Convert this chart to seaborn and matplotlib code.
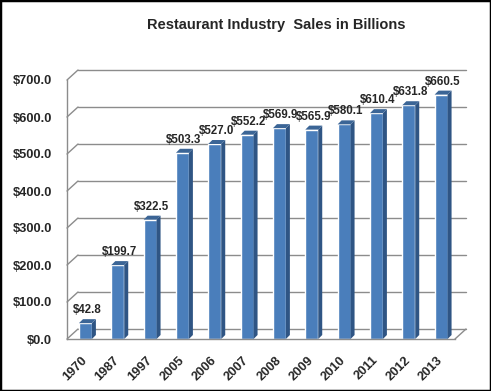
import numpy as np
import pandas as pd
import matplotlib
matplotlib.use("Agg")
import matplotlib.pyplot as plt
import seaborn as sns
from matplotlib.patches import Polygon, Rectangle

# dados
anos = ["1970", "1987", "1997", "2005", "2006", "2007", "2008", "2009", "2010", "2011", "2012", "2013"]
vendas = [42.8, 199.7, 322.5, 503.3, 527.0, 552.2, 569.9, 565.9, 580.1, 610.4, 631.8, 660.5]
ticks_y = [0, 100, 200, 300, 400, 500, 600, 700]

dados = pd.DataFrame({"ano": anos, "vendas": vendas})

sns.set_style("white")
plt.rcParams["font.family"] = ["Liberation Sans", "DejaVu Sans"]

azul = "#4A7EBB"
lado = "#2F5584"
topo = "#3B6596"
cinza = "#8C8C8C"

fig = plt.figure(figsize=(4.91, 3.91), dpi=100)
ax = fig.add_axes([67 / 491, 52 / 391, 388 / 491, 259 / 391])

sns.barplot(data=dados, x="ano", y="vendas", color=azul, saturation=1, width=0.4, ax=ax)
ax.set_xlim(-0.57, 11.43)
ax.set_ylim(0, 700)

# conversao de pixels para unidades de dados
px_x = 12 / 388
px_y = 700 / 259

# efeito 3D nas barras
d = 4
for p in ax.patches:
    x0, w, h = p.get_x(), p.get_width(), p.get_height()
    x1 = x0 + w
    ax.add_patch(Polygon([(x1, 0), (x1, h), (x1 + d * px_x, h + d * px_y), (x1 + d * px_x, d * px_y)],
                         closed=True, facecolor=lado, edgecolor="none", clip_on=False))
    ax.add_patch(Polygon([(x0, h), (x1, h), (x1 + d * px_x, h + d * px_y), (x0 + d * px_x, h + d * px_y)],
                         closed=True, facecolor=topo, edgecolor="none", clip_on=False))

# paredes de fundo (linhas de grade)
dxw, dyw = 11 * px_x, 10 * px_y
xa, xb = -0.57, 11.43
for v in ticks_y:
    ax.plot([xa + dxw, xb + dxw], [v + dyw, v + dyw], color=cinza, lw=1, clip_on=False, zorder=0)
    ax.plot([xa, xa + dxw], [v, v + dyw], color=cinza, lw=1, clip_on=False, zorder=0)
ax.plot([xb, xb + dxw], [0, dyw], color=cinza, lw=1, clip_on=False, zorder=0)

# rotulos de dados
for i, v in enumerate(vendas):
    ax.annotate(f"${v:.1f}", (i, v), xytext=(1, 5), textcoords="offset points",
                ha="center", va="bottom", fontsize=8.3, fontweight="bold")

for s in ["top", "right"]:
    ax.spines[s].set_visible(False)
for s in ["left", "bottom"]:
    ax.spines[s].set_color(cinza)
    ax.spines[s].set_linewidth(1)

ax.set_yticks(ticks_y)
ax.set_yticklabels([f"${t:.1f}" for t in ticks_y], fontsize=9.3, fontweight="bold")
ax.tick_params(axis="y", length=3, color=cinza, pad=8)
ax.set_xticks(range(len(anos)))
ax.set_xticklabels(anos, fontsize=9.3, fontweight="bold", rotation=45, ha="right", va="center",
                   rotation_mode="anchor")
ax.set_xticks(np.arange(len(anos) + 1) - 0.57, minor=True)
ax.tick_params(axis="x", which="major", length=0, pad=14)
ax.tick_params(axis="x", which="minor", length=3, color=cinza)
ax.set_xlabel("")
ax.set_ylabel("")
ax.patch.set_alpha(0)

fig.text(276 / 491, 1 - 25 / 391, "Restaurant Industry  Sales in Billions", ha="center", va="center",
         fontsize=10.5, fontweight="bold")
fig.patches.append(Rectangle((0, 0), 1, 1, transform=fig.transFigure, fill=False,
                             edgecolor="black", lw=2.5))

fig.savefig("out.png", dpi=100, facecolor="white")
